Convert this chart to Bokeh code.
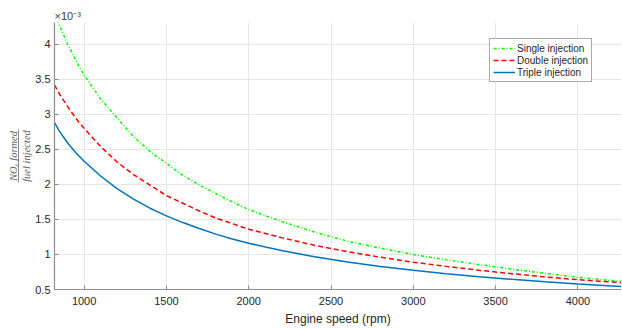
from bokeh.plotting import figure
from bokeh.models import Range1d, FixedTicker, Title, LinearAxis
from bokeh.embed import file_html
from bokeh.resources import INLINE

# ---- data (values in units of 1e-3) ----
rpm = [820, 850, 900, 950, 1000, 1100, 1200, 1300, 1400, 1500, 1600, 1700, 1800,
       1900, 2000, 2200, 2400, 2600, 2800, 3000, 3200, 3400, 3600, 3800, 4000, 4265]
single_inj = [4.45, 4.27, 4.00, 3.77, 3.56, 3.22, 2.95, 2.68, 2.47, 2.30, 2.13, 1.99, 1.87,
              1.75, 1.64, 1.47, 1.32, 1.19, 1.09, 1.00, 0.925, 0.855, 0.79, 0.73, 0.675, 0.615]
double_inj = [3.42, 3.29, 3.11, 2.94, 2.80, 2.54, 2.32, 2.14, 1.99, 1.84, 1.73, 1.62, 1.52,
              1.44, 1.36, 1.24, 1.13, 1.04, 0.96, 0.89, 0.83, 0.775, 0.725, 0.68, 0.64, 0.597]
triple_inj = [2.88, 2.76, 2.59, 2.45, 2.33, 2.12, 1.94, 1.79, 1.66, 1.55, 1.455, 1.37, 1.29,
              1.22, 1.16, 1.055, 0.967, 0.892, 0.829, 0.774, 0.726, 0.683, 0.645, 0.611, 0.58, 0.544]
x_ticks = [1000, 1500, 2000, 2500, 3000, 3500, 4000]
y_ticks = [0.5, 1, 1.5, 2, 2.5, 3, 3.5, 4]
y_tick_labels = ["0.5", "1", "1.5", "2", "2.5", "3", "3.5", "4"]
series_names = ["Single injection", "Double injection", "Triple injection"]
y_label_num = "NO\u2093 formed"
y_label_den = "fuel injected"

FONT = "Liberation Sans"
TXT = "#262626"
AX = "#8c8c8c"
LBL = "#5a5a5a"

p = figure(width=621, height=328, x_range=Range1d(820, 4265), y_range=Range1d(0.5, 4.31),
           output_backend="svg", toolbar_location=None,
           min_border_left=54, min_border_right=0, min_border_top=22, min_border_bottom=38)
p.outline_line_color = None
p.background_fill_color = "white"
p.border_fill_color = "white"

p.line(rpm, single_inj, color="#00ff00", line_width=1.5, line_dash="3 2 1 2",
       legend_label=series_names[0])
p.line(rpm, double_inj, color="#ff0000", line_width=1.5, line_dash="5 3",
       legend_label=series_names[1])
p.line(rpm, triple_inj, color="#0072bd", line_width=1.5, legend_label=series_names[2])

# axes
p.xaxis.ticker = FixedTicker(ticks=x_ticks)
p.yaxis.ticker = FixedTicker(ticks=y_ticks)
p.yaxis.major_label_overrides = {t: s for t, s in zip(y_ticks, y_tick_labels)}
for ax in (p.xaxis[0], p.yaxis[0]):
    ax.axis_line_color = AX
    ax.axis_line_width = 1.2
    ax.major_tick_line_color = AX
    ax.major_tick_in = 4
    ax.major_tick_out = 0
    ax.minor_tick_line_color = None
    ax.major_label_text_font = FONT
    ax.major_label_text_font_size = "11px"
    ax.major_label_text_color = TXT
p.xaxis.major_label_standoff = 7
p.yaxis.major_label_standoff = 4
p.xaxis.axis_label = "Engine speed (rpm)"
p.xaxis.axis_label_text_font = FONT
p.xaxis.axis_label_text_font_size = "12px"
p.xaxis.axis_label_text_font_style = "normal"
p.xaxis.axis_label_text_color = TXT
p.xaxis.axis_label_standoff = 4

# y-axis label: fraction  NOx_formed / fuel_injected
# denominator = label of the main y axis
p.yaxis.axis_label = y_label_den
p.yaxis.axis_label_text_font = "Liberation Serif"
p.yaxis.axis_label_text_font_style = "italic"
p.yaxis.axis_label_text_font_size = "10.5px"
p.yaxis.axis_label_text_color = LBL
p.yaxis.axis_label_standoff = 0
# fraction bar + numerator = an extra bounded left axis with no ticks
frac = LinearAxis(bounds=(2.02, 2.78), ticker=FixedTicker(ticks=[]),
                  axis_line_color="#6f6f6f", axis_line_width=0.8,
                  major_tick_line_color=None, minor_tick_line_color=None,
                  major_tick_in=0, major_tick_out=0, minor_tick_in=0, minor_tick_out=0,
                  major_label_standoff=0, major_label_text_font_size="0px",
                  axis_label=y_label_num, axis_label_standoff=0,
                  axis_label_text_font="Liberation Serif",
                  axis_label_text_font_style="italic",
                  axis_label_text_font_size="10.5px",
                  axis_label_text_color=LBL)
p.add_layout(frac, "left")

p.xgrid.grid_line_color = "#e6e6e6"
p.ygrid.grid_line_color = "#e6e6e6"
p.xgrid.ticker = FixedTicker(ticks=x_ticks)
p.ygrid.ticker = FixedTicker(ticks=y_ticks)

# exponent label
p.add_layout(Title(text="\u00d710\u207b\u00b3", align="left", offset=0, standoff=1,
                   text_font=FONT, text_font_size="11px", text_font_style="normal",
                   text_color="#404040"), "above")

# legend
lg = p.legend[0]
lg.location = (435, 207)
lg.label_text_font = FONT
lg.label_text_font_size = "10px"
lg.label_text_color = TXT
lg.label_height = 12
lg.glyph_height = 12
lg.glyph_width = 22
lg.label_standoff = 2
lg.padding = 3
lg.spacing = 0
lg.margin = 0
lg.border_line_color = "#555555"
lg.border_line_width = 1
lg.background_fill_color = "white"
lg.background_fill_alpha = 1

open("out.html", "w").write(file_html(p, INLINE))
